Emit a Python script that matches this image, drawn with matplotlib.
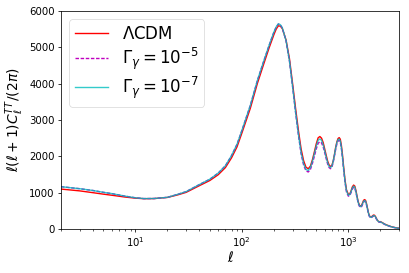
import matplotlib
matplotlib.use("Agg")
import matplotlib.pyplot as plt

ell = [2, 3, 4, 5, 6, 8, 10, 12, 15, 20,
       25, 30, 40, 50, 60, 70, 80, 90, 100, 120,
       140, 160, 180, 200, 210, 220, 230, 240, 260, 280,
       300, 320, 340, 360, 380, 400, 420, 440, 460, 480,
       500, 520, 540, 560, 580, 600, 620, 640, 660, 680,
       700, 720, 740, 760, 780, 800, 820, 840, 860, 880,
       900, 930, 960, 1000, 1030, 1060, 1090, 1120, 1150, 1180,
       1210, 1240, 1270, 1300, 1330, 1360, 1390, 1420, 1450, 1480,
       1510, 1540, 1570, 1600, 1640, 1680, 1720, 1760, 1800, 1850,
       1900, 1950, 2000, 2100, 2200, 2300, 2400, 2500, 2600, 2800, 3000]

lcdm = [1100, 1050, 1000, 960, 930, 880, 850, 835, 838, 870,
        940, 1010, 1195, 1335, 1495, 1690, 1960, 2260, 2640, 3320,
        4010, 4530, 4980, 5350, 5500, 5590, 5580, 5510, 5200, 4680,
        3980, 3300, 2700, 2200, 1880, 1700, 1660, 1730, 1910, 2130,
        2350, 2510, 2545, 2500, 2380, 2200, 2020, 1860, 1760, 1720,
        1750, 1870, 2050, 2250, 2400, 2490, 2515, 2470, 2300, 2050,
        1750, 1350, 1080, 950, 960, 1050, 1160, 1210, 1180, 1050,
        880, 740, 660, 630, 650, 720, 790, 810, 790, 700,
        580, 460, 380, 340, 330, 360, 385, 380, 340, 270,
        220, 200, 205, 170, 135, 110, 90, 70, 55, 35, 20]

gamma5 = [1165, 1110, 1060, 1010, 975, 905, 860, 838, 840, 872,
          955, 1030, 1225, 1370, 1540, 1740, 2020, 2330, 2710, 3400,
          4090, 4610, 5050, 5420, 5555, 5640, 5615, 5525, 5175, 4610,
          3890, 3180, 2570, 2070, 1760, 1600, 1570, 1640, 1810, 2010,
          2210, 2360, 2400, 2370, 2260, 2100, 1930, 1780, 1690, 1660,
          1700, 1830, 2010, 2190, 2340, 2420, 2440, 2390, 2210, 1960,
          1670, 1280, 1020, 905, 920, 1005, 1100, 1150, 1120, 995,
          840, 700, 625, 595, 615, 680, 745, 765, 745, 660,
          550, 435, 355, 318, 310, 335, 358, 352, 318, 252,
          207, 188, 190, 158, 125, 100, 82, 65, 50, 32, 17]

gamma7 = [1165, 1110, 1060, 1010, 975, 905, 860, 838, 840, 872,
          955, 1030, 1225, 1370, 1540, 1740, 2020, 2330, 2710, 3400,
          4090, 4610, 5050, 5420, 5560, 5645, 5620, 5530, 5180, 4620,
          3900, 3200, 2600, 2100, 1800, 1640, 1610, 1690, 1870, 2080,
          2290, 2440, 2480, 2440, 2320, 2150, 1970, 1820, 1720, 1690,
          1730, 1860, 2040, 2230, 2380, 2460, 2475, 2420, 2240, 1990,
          1700, 1310, 1050, 930, 945, 1030, 1130, 1180, 1150, 1020,
          860, 720, 645, 615, 635, 700, 765, 785, 765, 680,
          565, 450, 370, 330, 320, 345, 370, 365, 330, 262,
          215, 195, 198, 165, 130, 105, 85, 68, 53, 33, 18]

labels = [r"$\Lambda$CDM", r"$\Gamma_\gamma=10^{-5}$", r"$\Gamma_\gamma=10^{-7}$"]

fig = plt.figure(figsize=(4.09, 2.73), dpi=100)
ax = fig.add_axes([0.149, 0.161, 0.827, 0.799])
ax.plot(ell, lcdm, color="r", lw=1.0, label=labels[0])
ax.plot(ell, gamma5, color="m", lw=1.0, ls="--", dashes=(2.5, 1.2), label=labels[1])
ax.plot(ell, gamma7, color="c", lw=1.0, alpha=0.8, label=labels[2])
ax.set_xscale("log")
ax.set_xlim(2, 3000)
ax.set_ylim(0, 6000)
ax.tick_params(labelsize=7.3, width=0.55, length=2.5, pad=2)
ax.tick_params(which="minor", width=0.45, length=1.5)
for s in ax.spines.values():
    s.set_linewidth(0.55)
ax.set_xlabel(r"$\ell$", fontsize=10, labelpad=1)
ax.set_ylabel(r"$\ell(\ell+1)C_\ell^{TT}/(2\pi)$", fontsize=10, labelpad=2)
leg = ax.legend(loc="upper left", fontsize=12, handlelength=2.0, borderpad=0.35,
                labelspacing=0.15, handletextpad=0.8, borderaxespad=0.5)
leg.get_frame().set_linewidth(0.5)
fig.savefig("out.png", dpi=100)
